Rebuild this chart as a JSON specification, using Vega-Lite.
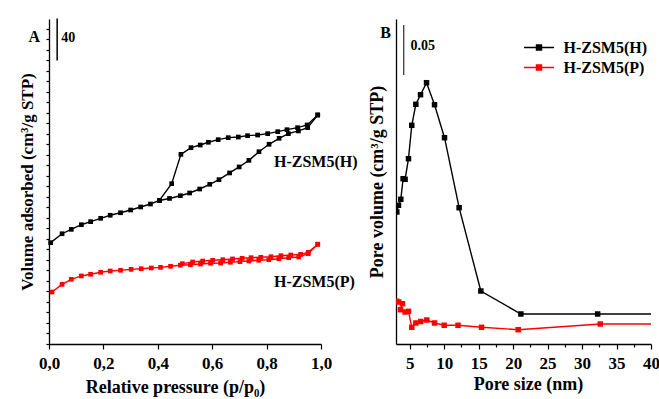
{
  "$schema": "https://vega.github.io/schema/vega-lite/v6.json",
  "background": "white",
  "padding": {"left": 18, "top": 17, "right": 5, "bottom": 2},
  "spacing": 75,
  "bounds": "flush",
  "config": {
    "view": {"stroke": null},
    "font": "Liberation Serif",
    "axis": {
      "grid": false,
      "domainColor": "black",
      "domainWidth": 1.3,
      "tickColor": "black",
      "tickWidth": 1.2,
      "labelColor": "black",
      "labelFont": "Liberation Serif",
      "labelFontWeight": "bold",
      "labelFontSize": 17,
      "labelOverlap": false,
      "titleColor": "black",
      "titleFont": "Liberation Serif",
      "titleFontWeight": "bold",
      "titleFontSize": 18
    },
    "legend": {"labelFont": "Liberation Serif", "labelFontWeight": "bold", "labelFontSize": 16, "labelColor": "black"}
  },
  "datasets": {
    "iso": [
      {"s": "H-ZSM5(H)", "b": "ads", "i": 0, "p": 0.006, "v": 96.5},
      {"s": "H-ZSM5(H)", "b": "ads", "i": 1, "p": 0.048, "v": 105.0},
      {"s": "H-ZSM5(H)", "b": "ads", "i": 2, "p": 0.082, "v": 109.2},
      {"s": "H-ZSM5(H)", "b": "ads", "i": 3, "p": 0.119, "v": 113.6},
      {"s": "H-ZSM5(H)", "b": "ads", "i": 4, "p": 0.153, "v": 116.5},
      {"s": "H-ZSM5(H)", "b": "ads", "i": 5, "p": 0.19, "v": 119.7},
      {"s": "H-ZSM5(H)", "b": "ads", "i": 6, "p": 0.225, "v": 122.6},
      {"s": "H-ZSM5(H)", "b": "ads", "i": 7, "p": 0.263, "v": 125.0},
      {"s": "H-ZSM5(H)", "b": "ads", "i": 8, "p": 0.30, "v": 127.6},
      {"s": "H-ZSM5(H)", "b": "ads", "i": 9, "p": 0.337, "v": 130.5},
      {"s": "H-ZSM5(H)", "b": "ads", "i": 10, "p": 0.373, "v": 133.3},
      {"s": "H-ZSM5(H)", "b": "ads", "i": 11, "p": 0.406, "v": 136.7},
      {"s": "H-ZSM5(H)", "b": "ads", "i": 12, "p": 0.443, "v": 138.6},
      {"s": "H-ZSM5(H)", "b": "ads", "i": 13, "p": 0.483, "v": 141.2},
      {"s": "H-ZSM5(H)", "b": "ads", "i": 14, "p": 0.517, "v": 143.8},
      {"s": "H-ZSM5(H)", "b": "ads", "i": 15, "p": 0.554, "v": 147.6},
      {"s": "H-ZSM5(H)", "b": "ads", "i": 16, "p": 0.591, "v": 152.1},
      {"s": "H-ZSM5(H)", "b": "ads", "i": 17, "p": 0.625, "v": 156.5},
      {"s": "H-ZSM5(H)", "b": "ads", "i": 18, "p": 0.664, "v": 162.9},
      {"s": "H-ZSM5(H)", "b": "ads", "i": 19, "p": 0.699, "v": 168.6},
      {"s": "H-ZSM5(H)", "b": "ads", "i": 20, "p": 0.735, "v": 174.9},
      {"s": "H-ZSM5(H)", "b": "ads", "i": 21, "p": 0.772, "v": 183.1},
      {"s": "H-ZSM5(H)", "b": "ads", "i": 22, "p": 0.809, "v": 190.2},
      {"s": "H-ZSM5(H)", "b": "ads", "i": 23, "p": 0.846, "v": 195.9},
      {"s": "H-ZSM5(H)", "b": "ads", "i": 24, "p": 0.880, "v": 200.3},
      {"s": "H-ZSM5(H)", "b": "ads", "i": 25, "p": 0.917, "v": 202.9},
      {"s": "H-ZSM5(H)", "b": "ads", "i": 26, "p": 0.951, "v": 206.0},
      {"s": "H-ZSM5(H)", "b": "ads", "i": 27, "p": 0.988, "v": 218.1},
      {"s": "H-ZSM5(H)", "b": "des", "i": 0, "p": 0.988, "v": 218.1},
      {"s": "H-ZSM5(H)", "b": "des", "i": 1, "p": 0.949, "v": 208.6},
      {"s": "H-ZSM5(H)", "b": "des", "i": 2, "p": 0.914, "v": 206.0},
      {"s": "H-ZSM5(H)", "b": "des", "i": 3, "p": 0.875, "v": 204.1},
      {"s": "H-ZSM5(H)", "b": "des", "i": 4, "p": 0.841, "v": 202.2},
      {"s": "H-ZSM5(H)", "b": "des", "i": 5, "p": 0.804, "v": 200.3},
      {"s": "H-ZSM5(H)", "b": "des", "i": 6, "p": 0.767, "v": 199.0},
      {"s": "H-ZSM5(H)", "b": "des", "i": 7, "p": 0.730, "v": 198.4},
      {"s": "H-ZSM5(H)", "b": "des", "i": 8, "p": 0.696, "v": 197.1},
      {"s": "H-ZSM5(H)", "b": "des", "i": 9, "p": 0.659, "v": 196.5},
      {"s": "H-ZSM5(H)", "b": "des", "i": 10, "p": 0.622, "v": 194.6},
      {"s": "H-ZSM5(H)", "b": "des", "i": 11, "p": 0.586, "v": 192.1},
      {"s": "H-ZSM5(H)", "b": "des", "i": 12, "p": 0.556, "v": 189.5},
      {"s": "H-ZSM5(H)", "b": "des", "i": 13, "p": 0.522, "v": 187.0},
      {"s": "H-ZSM5(H)", "b": "des", "i": 14, "p": 0.485, "v": 180.6},
      {"s": "H-ZSM5(H)", "b": "des", "i": 15, "p": 0.451, "v": 152.7},
      {"s": "H-ZSM5(H)", "b": "des", "i": 16, "p": 0.406, "v": 136.7},
      {"s": "H-ZSM5(P)", "b": "ads", "i": 0, "p": 0.011, "v": 49.5},
      {"s": "H-ZSM5(P)", "b": "ads", "i": 1, "p": 0.048, "v": 56.8},
      {"s": "H-ZSM5(P)", "b": "ads", "i": 2, "p": 0.082, "v": 61.6},
      {"s": "H-ZSM5(P)", "b": "ads", "i": 3, "p": 0.119, "v": 64.8},
      {"s": "H-ZSM5(P)", "b": "ads", "i": 4, "p": 0.153, "v": 66.4},
      {"s": "H-ZSM5(P)", "b": "ads", "i": 5, "p": 0.19, "v": 68.3},
      {"s": "H-ZSM5(P)", "b": "ads", "i": 6, "p": 0.225, "v": 69.5},
      {"s": "H-ZSM5(P)", "b": "ads", "i": 7, "p": 0.263, "v": 70.2},
      {"s": "H-ZSM5(P)", "b": "ads", "i": 8, "p": 0.302, "v": 71.1},
      {"s": "H-ZSM5(P)", "b": "ads", "i": 9, "p": 0.339, "v": 71.7},
      {"s": "H-ZSM5(P)", "b": "ads", "i": 10, "p": 0.376, "v": 72.4},
      {"s": "H-ZSM5(P)", "b": "ads", "i": 11, "p": 0.41, "v": 73.0},
      {"s": "H-ZSM5(P)", "b": "ads", "i": 12, "p": 0.447, "v": 74.0},
      {"s": "H-ZSM5(P)", "b": "ads", "i": 13, "p": 0.483, "v": 75.0},
      {"s": "H-ZSM5(P)", "b": "ads", "i": 14, "p": 0.52, "v": 75.5},
      {"s": "H-ZSM5(P)", "b": "ads", "i": 15, "p": 0.557, "v": 76.2},
      {"s": "H-ZSM5(P)", "b": "ads", "i": 16, "p": 0.594, "v": 76.9},
      {"s": "H-ZSM5(P)", "b": "ads", "i": 17, "p": 0.631, "v": 77.1},
      {"s": "H-ZSM5(P)", "b": "ads", "i": 18, "p": 0.667, "v": 77.8},
      {"s": "H-ZSM5(P)", "b": "ads", "i": 19, "p": 0.702, "v": 78.4},
      {"s": "H-ZSM5(P)", "b": "ads", "i": 20, "p": 0.735, "v": 79.0},
      {"s": "H-ZSM5(P)", "b": "ads", "i": 21, "p": 0.771, "v": 79.7},
      {"s": "H-ZSM5(P)", "b": "ads", "i": 22, "p": 0.808, "v": 80.3},
      {"s": "H-ZSM5(P)", "b": "ads", "i": 23, "p": 0.845, "v": 81.2},
      {"s": "H-ZSM5(P)", "b": "ads", "i": 24, "p": 0.881, "v": 82.2},
      {"s": "H-ZSM5(P)", "b": "ads", "i": 25, "p": 0.918, "v": 82.9},
      {"s": "H-ZSM5(P)", "b": "ads", "i": 26, "p": 0.953, "v": 86.0},
      {"s": "H-ZSM5(P)", "b": "ads", "i": 27, "p": 0.988, "v": 95.0},
      {"s": "H-ZSM5(P)", "b": "des", "i": 0, "p": 0.988, "v": 95.0},
      {"s": "H-ZSM5(P)", "b": "des", "i": 1, "p": 0.953, "v": 87.3},
      {"s": "H-ZSM5(P)", "b": "des", "i": 2, "p": 0.925, "v": 85.4},
      {"s": "H-ZSM5(P)", "b": "des", "i": 3, "p": 0.889, "v": 84.8},
      {"s": "H-ZSM5(P)", "b": "des", "i": 4, "p": 0.853, "v": 84.1},
      {"s": "H-ZSM5(P)", "b": "des", "i": 5, "p": 0.816, "v": 83.1},
      {"s": "H-ZSM5(P)", "b": "des", "i": 6, "p": 0.779, "v": 82.6},
      {"s": "H-ZSM5(P)", "b": "des", "i": 7, "p": 0.743, "v": 82.2},
      {"s": "H-ZSM5(P)", "b": "des", "i": 8, "p": 0.710, "v": 81.6},
      {"s": "H-ZSM5(P)", "b": "des", "i": 9, "p": 0.675, "v": 81.0},
      {"s": "H-ZSM5(P)", "b": "des", "i": 10, "p": 0.639, "v": 80.3},
      {"s": "H-ZSM5(P)", "b": "des", "i": 11, "p": 0.602, "v": 79.7},
      {"s": "H-ZSM5(P)", "b": "des", "i": 12, "p": 0.565, "v": 79.0},
      {"s": "H-ZSM5(P)", "b": "des", "i": 13, "p": 0.528, "v": 78.1},
      {"s": "H-ZSM5(P)", "b": "des", "i": 14, "p": 0.49, "v": 76.5}
    ],
    "psd": [
      {"s": "H-ZSM5(H)", "i": 0, "d": 3.12, "pv": 0.132},
      {"s": "H-ZSM5(H)", "i": 1, "d": 3.36, "pv": 0.1387},
      {"s": "H-ZSM5(H)", "i": 2, "d": 3.70, "pv": 0.1447},
      {"s": "H-ZSM5(H)", "i": 3, "d": 4.03, "pv": 0.1653},
      {"s": "H-ZSM5(H)", "i": 4, "d": 4.32, "pv": 0.1647},
      {"s": "H-ZSM5(H)", "i": 5, "d": 4.81, "pv": 0.1853},
      {"s": "H-ZSM5(H)", "i": 6, "d": 5.29, "pv": 0.2187},
      {"s": "H-ZSM5(H)", "i": 7, "d": 5.88, "pv": 0.2397},
      {"s": "H-ZSM5(H)", "i": 8, "d": 6.56, "pv": 0.2493},
      {"s": "H-ZSM5(H)", "i": 9, "d": 7.43, "pv": 0.2613},
      {"s": "H-ZSM5(H)", "i": 10, "d": 8.59, "pv": 0.2393},
      {"s": "H-ZSM5(H)", "i": 11, "d": 10.04, "pv": 0.2063},
      {"s": "H-ZSM5(H)", "i": 12, "d": 12.16, "pv": 0.1363},
      {"s": "H-ZSM5(H)", "i": 13, "d": 15.31, "pv": 0.053},
      {"s": "H-ZSM5(H)", "i": 14, "d": 21.12, "pv": 0.030},
      {"s": "H-ZSM5(H)", "i": 15, "d": 32.26, "pv": 0.030},
      {"s": "H-ZSM5(H)", "i": 16, "d": 46.0, "pv": 0.030},
      {"s": "H-ZSM5(P)", "i": 0, "d": 3.1, "pv": 0.0427},
      {"s": "H-ZSM5(P)", "i": 1, "d": 3.4, "pv": 0.042},
      {"s": "H-ZSM5(P)", "i": 2, "d": 3.94, "pv": 0.0403},
      {"s": "H-ZSM5(P)", "i": 3, "d": 3.65, "pv": 0.0343},
      {"s": "H-ZSM5(P)", "i": 4, "d": 4.32, "pv": 0.032},
      {"s": "H-ZSM5(P)", "i": 5, "d": 4.81, "pv": 0.0327},
      {"s": "H-ZSM5(P)", "i": 6, "d": 5.29, "pv": 0.0167},
      {"s": "H-ZSM5(P)", "i": 7, "d": 5.88, "pv": 0.021},
      {"s": "H-ZSM5(P)", "i": 8, "d": 6.6, "pv": 0.0225},
      {"s": "H-ZSM5(P)", "i": 9, "d": 7.47, "pv": 0.024},
      {"s": "H-ZSM5(P)", "i": 10, "d": 8.59, "pv": 0.021},
      {"s": "H-ZSM5(P)", "i": 11, "d": 9.99, "pv": 0.0187},
      {"s": "H-ZSM5(P)", "i": 12, "d": 12.0, "pv": 0.0187},
      {"s": "H-ZSM5(P)", "i": 13, "d": 15.41, "pv": 0.0167},
      {"s": "H-ZSM5(P)", "i": 14, "d": 20.73, "pv": 0.0143},
      {"s": "H-ZSM5(P)", "i": 15, "d": 32.64, "pv": 0.020},
      {"s": "H-ZSM5(P)", "i": 16, "d": 46.0, "pv": 0.020}
    ]
  },
  "resolve": {"scale": {"color": "independent"}, "legend": {"color": "independent"}},
  "hconcat": [
    {
      "width": 272,
      "height": 325,
      "layer": [
        {
          "data": {"name": "iso"},
          "mark": {"type": "line", "strokeWidth": 1.4, "point": {"shape": "square", "filled": true, "size": 22}},
          "encoding": {
            "x": {"field": "p", "type": "quantitative", "scale": {"domain": [0, 1], "nice": false},
              "axis": {"title": "Relative pressure (p/p₀)", "values": [0, 0.1, 0.2, 0.3, 0.4, 0.5, 0.6, 0.7, 0.8, 0.9, 1.0],
                "labelExpr": "round(datum.value*10) % 2 == 0 ? replace(format(datum.value, '.1f'), '.', ',') : ''",
                "tickSize": {"condition": {"test": "round(datum.value*10) % 2 == 0", "value": 5}, "value": 3},
                "labelPadding": 6, "titlePadding": 7, "titleX": 126, "labelFlush": false, "labelOverlap": false}},
            "y": {"field": "v", "type": "quantitative", "scale": {"domain": [0, 309.5], "nice": false},
              "axis": {"title": "Volume adsorbed  (cm³/g STP)", "labels": false, "tickCount": 31, "tickSize": 3, "titlePadding": 9, "titleFontSize": 17}},
            "color": {"field": "s", "type": "nominal", "scale": {"domain": ["H-ZSM5(H)", "H-ZSM5(P)"], "range": ["black", "#ff0000"]}, "legend": null},
            "detail": {"field": "b"},
            "order": {"field": "i", "type": "quantitative"}
          }
        },
        {
          "data": {"values": [{"x": 0.03, "y1": 270, "y2": 310}]},
          "mark": {"type": "rule", "color": "black", "strokeWidth": 1.5},
          "encoding": {"x": {"field": "x", "type": "quantitative"}, "y": {"field": "y1", "type": "quantitative"}, "y2": {"field": "y2"}}
        },
        {
          "data": {"values": [
            {"x": 0.045, "y": 291, "t": "40", "fs": "s"},
            {"x": -0.075, "y": 292, "t": "A", "fs": "l"},
            {"x": 0.827, "y": 173, "t": "H-ZSM5(H)", "fs": "l"},
            {"x": 0.827, "y": 59, "t": "H-ZSM5(P)", "fs": "l"}
          ]},
          "mark": {"type": "text", "align": "left", "baseline": "middle", "font": "Liberation Serif", "fontWeight": "bold", "color": "black"},
          "encoding": {
            "x": {"field": "x", "type": "quantitative"},
            "y": {"field": "y", "type": "quantitative"},
            "text": {"field": "t"},
            "size": {"field": "fs", "type": "nominal", "scale": {"domain": ["s", "l"], "range": [14, 16]}, "legend": null}
          }
        }
      ]
    },
    {
      "width": 255,
      "height": 325,
      "resolve": {"axis": {"x": "independent"}},
      "layer": [
        {
          "data": {"name": "psd"},
          "mark": {"type": "line", "strokeWidth": 1.4, "clip": true, "point": {"shape": "square", "filled": true, "size": 30}},
          "encoding": {
            "x": {"field": "d", "type": "quantitative", "scale": {"domain": [3, 40], "nice": false},
              "axis": {"title": "Pore size (nm)", "orient": "bottom", "values": [5, 10, 15, 20, 25, 30, 35, 40], "format": "d", "tickSize": 5,
                "labelPadding": 6, "titlePadding": 4, "titleX": 132, "labelFlush": false, "labelOverlap": false}},
            "y": {"field": "pv", "type": "quantitative", "scale": {"domain": [0, 0.325], "nice": false},
              "axis": {"title": "Pore volume  (cm³/g STP)", "labels": false, "ticks": false, "titlePadding": 10}},
            "color": {"field": "s", "type": "nominal", "scale": {"domain": ["H-ZSM5(H)", "H-ZSM5(P)"], "range": ["black", "#ff0000"]},
              "legend": {"title": null, "orient": "none", "legendX": 134.5, "legendY": 20, "symbolType": "M-2,0H2M-0.33,-0.33H0.33V0.33H-0.33Z", "symbolSize": 225, "symbolStrokeWidth": 1.5, "rowPadding": 3, "labelOffset": 16,
                "encode": {"symbols": {"update": {"fill": {"scale": "color", "field": "value"}, "stroke": {"scale": "color", "field": "value"}}}}}},
            "order": {"field": "i", "type": "quantitative"}
          }
        },
        {
          "data": {"values": [{"x": 4.13, "y1": 0.269, "y2": 0.319}]},
          "mark": {"type": "rule", "color": "black", "strokeWidth": 1},
          "encoding": {
            "x": {"field": "x", "type": "quantitative", "axis": {"orient": "bottom", "values": [7.5, 12.5, 17.5, 22.5, 27.5, 32.5, 37.5], "labels": false, "title": null, "domain": false, "tickSize": 3}},
            "y": {"field": "y1", "type": "quantitative"}, "y2": {"field": "y2"}}
        },
        {
          "data": {"values": [
            {"x": 5.1, "y": 0.298, "t": "0.05", "fs": "s"},
            {"x": 0.7, "y": 0.311, "t": "B", "fs": "l"}
          ]},
          "mark": {"type": "text", "align": "left", "baseline": "middle", "font": "Liberation Serif", "fontWeight": "bold", "color": "black"},
          "encoding": {
            "x": {"field": "x", "type": "quantitative", "axis": null},
            "y": {"field": "y", "type": "quantitative"},
            "text": {"field": "t"},
            "size": {"field": "fs", "type": "nominal", "scale": {"domain": ["s", "l"], "range": [14, 16]}, "legend": null}
          }
        }
      ]
    }
  ]
}
